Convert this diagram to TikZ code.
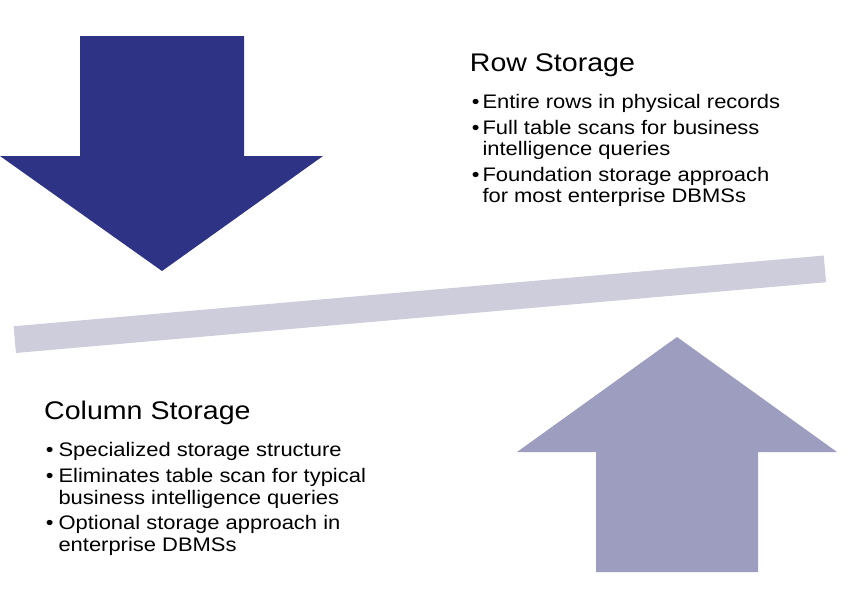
\documentclass[tikz,border=0pt]{standalone}
\usepackage{fontspec}
\usepackage{tikz}

\newfontfamily\slidefont[FakeStretch=1.12]{Liberation Sans}
\newcommand\headfont{\slidefont\fontsize{25.5}{28}\selectfont}
\newcommand\itemfont{\slidefont\fontsize{19.6}{21.5}\selectfont}

\definecolor{arrowdark}{RGB}{46,51,134}
\definecolor{arrowlight}{RGB}{157,157,192}
\definecolor{beamgrey}{RGB}{205,205,220}

\begin{document}
\begin{tikzpicture}[x=1pt, y=-1pt, every node/.style={inner sep=0pt, anchor=base west, align=left},
	head/.style={font=\headfont}, item/.style={font=\itemfont}, dot/.style={font=\itemfont}]
	\useasboundingbox (0,0) rectangle (858,590);
	\fill[arrowdark] (80,36) -- (244,36) -- (244,156) -- (323,156) -- (162,271) -- (0,156) -- (80,156) -- cycle;
	\fill[arrowlight] (596,572) -- (758,572) -- (758,452) -- (837,452) -- (677,337) -- (517,452) -- (596,452) -- cycle;
	\draw[beamgrey, line width=26.8pt] (14.8,339.6) -- (824.9,268.9);
	\node[head] (rowhead) at (469.7,71.7) {Row Storage};
	\node[dot] (rowdota) at (471.7,108.3) {•};
	\node[item] (rowa) at (482.3,108.3) {Entire rows in physical records};
	\node[dot] (rowdotb) at (471.7,134) {•};
	\node[item] (rowb) at (482.3,155.5) {Full table scans for business\\intelligence queries};
	\node[dot] (rowdotc) at (471.7,181) {•};
	\node[item] (rowc) at (482.3,202.5) {Foundation storage approach\\for most enterprise DBMSs};
	\node[head] (colhead) at (44,419.5) {Column Storage};
	\node[dot] (coldota) at (45.7,456.7) {•};
	\node[item] (cola) at (58.3,456.7) {Specialized storage structure};
	\node[dot] (coldotb) at (45.7,482.5) {•};
	\node[item] (colb) at (58.3,504) {Eliminates table scan for typical\\business intelligence queries};
	\node[dot] (coldotc) at (45.7,529.5) {•};
	\node[item] (colc) at (58.3,551) {Optional storage approach in\\enterprise DBMSs};
\end{tikzpicture}
\end{document}
